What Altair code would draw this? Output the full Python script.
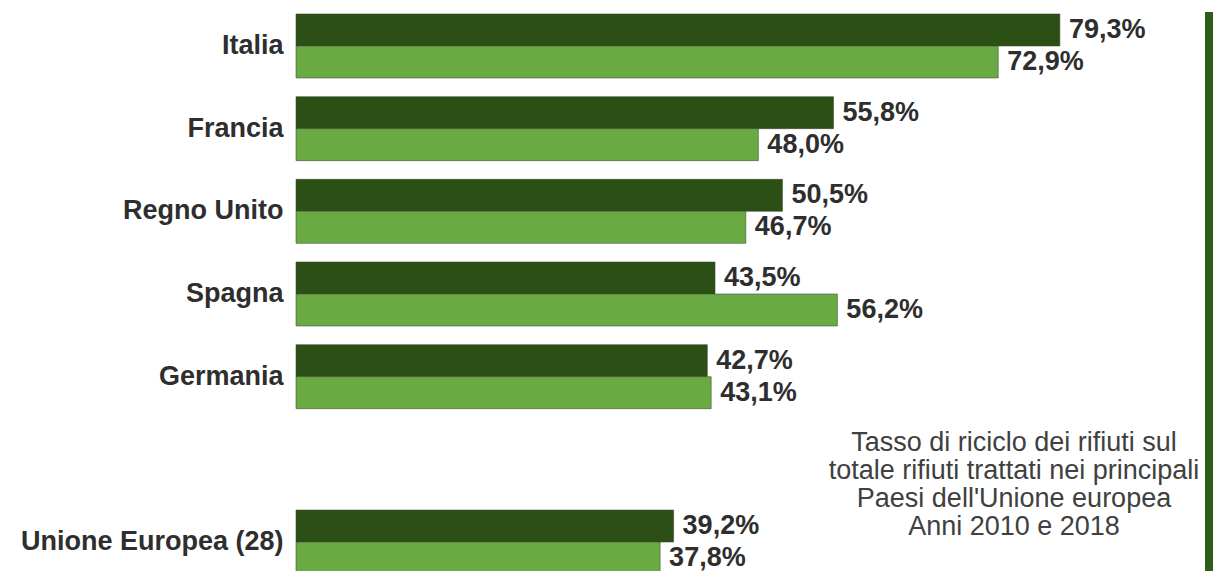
import altair as alt
import pandas as pd

countries = ["Italia", "Francia", "Regno Unito", "Spagna", "Germania", "Unione Europea (28)"]
values_2018 = [79.3, 55.8, 50.5, 43.5, 42.7, 39.2]
values_2010 = [72.9, 48.0, 46.7, 56.2, 43.1, 37.8]
years = ["2018", "2010"]
year_colors = ["#2c4f15", "#6aaa42"]
note_lines = [
    "Tasso di riciclo dei rifiuti sul",
    "totale rifiuti trattati nei principali",
    "Paesi dell'Unione europea",
    "Anni 2010 e 2018",
]

rows = []
for c, a, b in zip(countries, values_2018, values_2010):
    rows.append({"paese": c, "anno": "2018", "valore": a})
    rows.append({"paese": c, "anno": "2010", "valore": b})
df = pd.DataFrame(rows)
df["etichetta"] = df["valore"].map(lambda v: f"{v:.1f}".replace(".", ",") + "%")

# empty slot between Germania and the EU aggregate
y_domain = countries[:5] + [" "] + countries[5:]

W, H = 918, 564
X_MAX = 95.3
FONT = "Liberation Sans"

y_enc = alt.Y(
    "paese:N",
    scale=alt.Scale(domain=y_domain, paddingInner=0.226, paddingOuter=0.024),
    axis=alt.Axis(
        title=None, ticks=False, domain=False, grid=False,
        labelFontSize=27, labelFont=FONT, labelFontWeight="bold",
        labelColor="#2e2e2e", labelPadding=13, minExtent=288, maxExtent=288,
        labelLimit=400,
    ),
)
yoff_enc = alt.YOffset("anno:N", scale=alt.Scale(domain=years, paddingInner=0, paddingOuter=0))
x_enc = alt.X("valore:Q", scale=alt.Scale(domain=[0, X_MAX], nice=False, zero=True), axis=None)

base = alt.Chart(df)

bars = base.mark_bar(stroke="#3a4a33", strokeWidth=0.8, strokeOpacity=0.7).encode(
    x=x_enc,
    y=y_enc,
    yOffset=yoff_enc,
    color=alt.Color("anno:N", scale=alt.Scale(domain=years, range=year_colors), legend=None),
)

labels = base.mark_text(
    align="left", baseline="middle", dx=9, font=FONT, fontWeight="bold",
    fontSize=27, color="#2e2e2e",
).encode(x=x_enc, y=y_enc, yOffset=yoff_enc, text="etichetta:N")

note = alt.Chart(pd.DataFrame({"k": [0]})).mark_text(
    text=note_lines, align="center", baseline="alphabetic", font=FONT,
    fontSize=27, lineHeight=28, color="#404040",
).encode(x=alt.value(718), y=alt.value(439))

border = alt.Chart(pd.DataFrame({"k": [0]})).mark_rule(
    color="#2f5c1a", strokeWidth=8
).encode(x=alt.value(913), y=alt.value(0), y2=alt.value(H))

chart = (
    alt.layer(bars, labels, note, border)
    .properties(width=W, height=H, background="white", padding=0)
    .configure_view(stroke=None)
)

chart.save("out.html", embed_options={"renderer": "svg", "actions": False})
